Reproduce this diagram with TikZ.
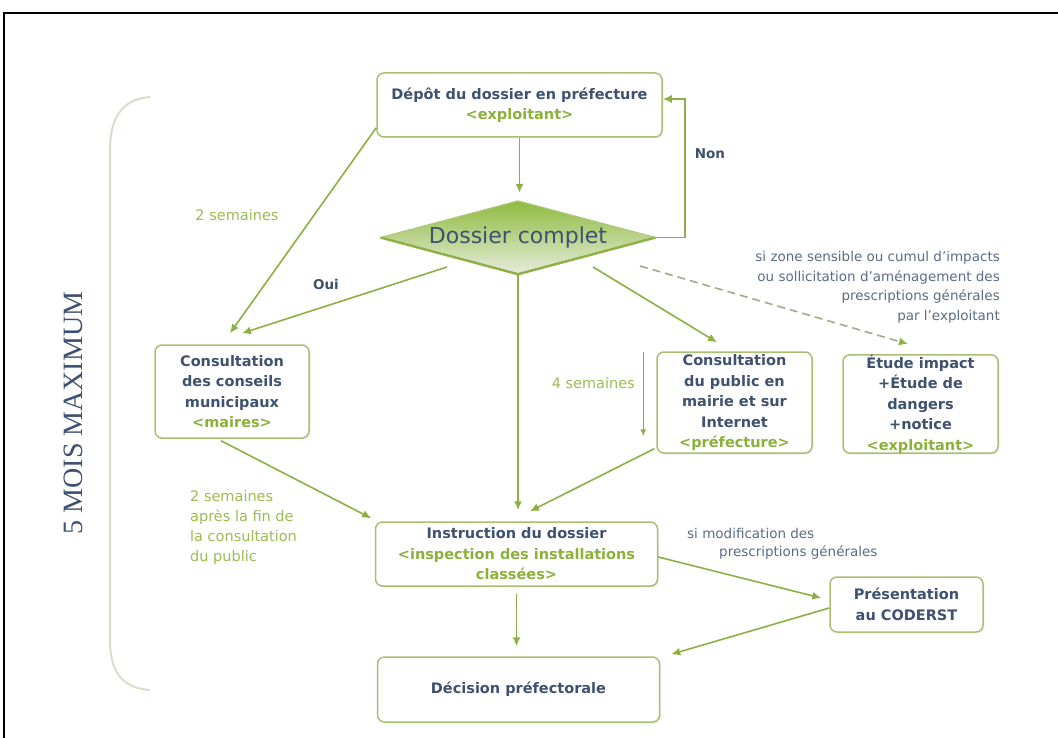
\documentclass[tikz,border=0pt]{standalone}
\usepackage{fontspec}
\setmainfont{DejaVu Sans}
\newfontfamily\moisfont{Liberation Serif}
\usetikzlibrary{arrows.meta,shapes.geometric,calc,shadows}
\definecolor{slate}{HTML}{3E5170}
\definecolor{gtext}{HTML}{8AB13A}
\definecolor{garrow}{HTML}{8DB043}
\definecolor{gborder}{HTML}{AABF72}
\definecolor{glabel}{HTML}{9DBB52}
\definecolor{slabel}{HTML}{5B6D86}
\definecolor{bracketc}{HTML}{D9DDCB}
\definecolor{dashc}{HTML}{A2AA8C}
\definecolor{diamtop}{HTML}{8FBB3F}
\definecolor{diammid}{HTML}{E2EAD0}
\definecolor{diambot}{HTML}{E6ECDC}
\begin{document}
\begin{tikzpicture}[x=1pt,y=-1pt,
  box/.style={draw=gborder, line width=1.5pt, rounded corners=7pt, fill=white, align=center,
    inner sep=0pt, font=\fontsize{14.5}{20.5}\selectfont\bfseries, text=slate,
    drop shadow={opacity=0.12, shadow xshift=1.5pt, shadow yshift=-1.5pt}},
  arr/.style={draw=garrow, line width=1.6pt, -{Latex[length=9pt,width=8pt]}},
  thinarr/.style={draw=garrow, line width=1pt, -{Latex[length=7pt,width=6pt]}},
  dasharr/.style={draw=dashc, line width=1.6pt, dash pattern=on 8pt off 5pt, -{Latex[length=9pt,width=8pt,color=garrow]}},
  lab/.style={font=\fontsize{14.5}{20.3}\selectfont, text=glabel, inner sep=0pt},
  slab/.style={font=\fontsize{13.5}{19.5}\selectfont, text=slabel, inner sep=0pt},
  yn/.style={font=\fontsize{13.5}{15}\selectfont\bfseries, text=slate, inner sep=0pt},
]
\useasboundingbox (0,0) rectangle (1058,738);
\fill[white] (0,0) rectangle (1058,738);
% frame
\draw[line width=2.2pt] (4,738) -- (4,13) -- (1058,13);
% bracket
\draw[bracketc, line width=2pt] (150,97) .. controls (122,99) and (110,118) .. (110,150)
  -- (110,640) .. controls (110,672) and (122,688) .. (150,690);
\node[font=\moisfont\fontsize{28}{28}\selectfont, text=slate, rotate=90] (mois) at (73,413) {5 MOIS MAXIMUM};

% boxes
\node[box, minimum width=285pt, minimum height=64pt] (depot) at (519.5,105)
  {Dépôt du dossier en préfecture\\\textcolor{gtext}{<exploitant>}};
\node[diamond, minimum width=275pt, minimum height=73pt, shape aspect=3.77, inner sep=0pt,
  top color=diamtop, middle color=diammid, bottom color=diambot,
  font=\fontsize{22}{22}\selectfont, text=slate] (diam) at (518,237.5) {Dossier complet};
\draw[garrow, line width=2.4pt, line join=round] (diam.west) -- (diam.south) -- (diam.east);
\draw[garrow!70, line width=1pt] (diam.west) -- (diam.north) -- (diam.east);

\node[box, minimum width=154pt, minimum height=93pt] (conseils) at (232,391.5)
  {Consultation\\des conseils\\municipaux\\\textcolor{gtext}{<maires>}};
\node[box, minimum width=155pt, minimum height=101pt] (public) at (734.5,402.5)
  {Consultation\\du public en\\mairie et sur\\Internet\\\textcolor{gtext}{<préfecture>}};
\node[box, minimum width=155pt, minimum height=98pt] (etude) at (920.5,404)
  {Étude impact\\+Étude de\\dangers\\+notice\\\textcolor{gtext}{<exploitant>}};
\node[box, minimum width=282pt, minimum height=64pt] (instr) at (516.5,554)
  {Instruction du dossier\\\textcolor{gtext}{<inspection des installations}\\\textcolor{gtext}{classées>}};
\node[box, minimum width=153pt, minimum height=55pt] (pres) at (906.5,604.5)
  {Présentation\\au CODERST};
\node[box, minimum width=282pt, minimum height=65pt] (decision) at (518.5,689.5)
  {Décision préfectorale};

% connectors
\draw[arr, shorten >=8pt] (depot.south) -- (depot.south |- diam.north);
\coordinate (nonc) at (685,99);
\draw[arr] (diam.east) -| (nonc) -- (depot.east |- nonc);
\draw[arr] ($(depot.south west)+(0,-10)$) -- ($(conseils.north)+(-2,-11)$);
\draw[arr] ($(diam.center)+(-71,29.5)$) -- ($(conseils.north)+(10,-11)$);
\draw[arr, shorten >=11pt] (diam.south) -- (diam.south |- instr.north);
\draw[arr] ($(diam.center)+(75,29.5)$) -- ($(public.north)+(-17.5,-9)$);
\draw[dasharr] ($(diam.center)+(122,28.5)$) -- ($(etude.north)+(-12.5,-10)$);
\draw[arr] ($(conseils.south)+(-11,2)$) -- ($(instr.north west)+(-3.5,-3)$);
\draw[arr] ($(public.south west)+(-2,-5)$) -- ($(instr.north)+(13.5,-10)$);
\draw[thinarr] ($(public.north west)+(-13,1)$) -- ($(public.north west)+(-13,85)$);
\draw[arr, shorten <=7pt, shorten >=10pt] (instr.south) -- (instr.south |- decision.north);
\draw[arr] ($(instr.east)+(0,3)$) -- ($(pres.west)+(-8,-6.5)$);
\draw[arr] ($(pres.west)+(0,3.5)$) -- ($(decision.north east)+(11,-2)$);

% labels
\node[lab] (l2a) at (237,215) {2 semaines};
\node[yn] (oui) at (326,284) {Oui};
\node[yn] (non) at (710,154) {Non};
\node[slab, anchor=east, align=right] (zone) at (1000,287.5)
  {si zone sensible ou cumul d'impacts\\ou sollicitation d'aménagement des\\prescriptions générales\\par l'exploitant};
\node[lab, anchor=east] (l4) at (635,383) {4 semaines};
\node[lab, anchor=west, align=left] (l2b) at (190,527.5)
  {2 semaines\\après la fin de\\la consultation\\du public};
\node[slab, anchor=west, align=left, font=\fontsize{13.5}{18}\selectfont] (modif) at (687,544)
  {si modification des\\\hspace*{32pt}prescriptions générales};
\end{tikzpicture}
\end{document}
